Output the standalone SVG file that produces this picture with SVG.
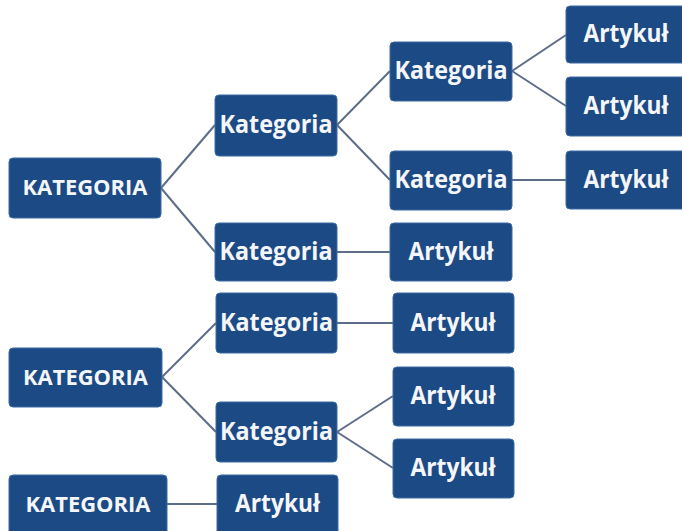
<svg xmlns="http://www.w3.org/2000/svg" width="682" height="531" viewBox="0 0 682 531">
<style>
.n rect{fill:#1c4a85;stroke:#3d6aa3;stroke-width:1;}
.n text{fill:#f4f6fa;font-family:"Open Sans","Liberation Sans",sans-serif;font-weight:bold;text-anchor:middle;}
.up{font-size:21px;}
.lo{font-size:25px;}
#connectors line{stroke:#5d6c88;stroke-width:2;}
</style>
<rect width="682" height="531" fill="#ffffff"/>
<g id="connectors">
<line x1="161" y1="188" x2="215" y2="125"/>
<line x1="161" y1="188" x2="215" y2="252"/>
<line x1="337" y1="125" x2="390" y2="71"/>
<line x1="337" y1="125" x2="390" y2="180"/>
<line x1="512" y1="71" x2="566" y2="35"/>
<line x1="512" y1="71" x2="566" y2="106"/>
<line x1="512" y1="180" x2="566" y2="180"/>
<line x1="337" y1="252" x2="390" y2="252"/>
<line x1="162" y1="377" x2="216" y2="323"/>
<line x1="162" y1="377" x2="216" y2="432"/>
<line x1="337" y1="323" x2="393" y2="323"/>
<line x1="337" y1="432" x2="393" y2="396"/>
<line x1="337" y1="432" x2="393" y2="468"/>
<line x1="167" y1="504" x2="217" y2="504"/>
</g>
<g id="K1" class="n"><rect x="9" y="158" width="152" height="60" rx="4"/><text class="up" x="85" y="195" textLength="125" lengthAdjust="spacingAndGlyphs">KATEGORIA</text></g>
<g id="K2" class="n"><rect x="9" y="348" width="153" height="59" rx="4"/><text class="up" x="85.5" y="385" textLength="125" lengthAdjust="spacingAndGlyphs">KATEGORIA</text></g>
<g id="K3" class="n"><rect x="9" y="475" width="158" height="62" rx="4"/><text class="up" x="88" y="512" textLength="125" lengthAdjust="spacingAndGlyphs">KATEGORIA</text></g>
<g id="ka" class="n"><rect x="215" y="95" width="122" height="61" rx="4"/><text class="lo" x="276" y="133" textLength="113" lengthAdjust="spacingAndGlyphs">Kategoria</text></g>
<g id="kb" class="n"><rect x="215" y="223" width="122" height="58" rx="4"/><text class="lo" x="276" y="260" textLength="113" lengthAdjust="spacingAndGlyphs">Kategoria</text></g>
<g id="kc" class="n"><rect x="216" y="293" width="121" height="60" rx="4"/><text class="lo" x="276.5" y="331" textLength="113" lengthAdjust="spacingAndGlyphs">Kategoria</text></g>
<g id="kd" class="n"><rect x="216" y="402" width="121" height="60" rx="4"/><text class="lo" x="276.5" y="440" textLength="113" lengthAdjust="spacingAndGlyphs">Kategoria</text></g>
<g id="ke" class="n"><rect x="390" y="42" width="122" height="59" rx="4"/><text class="lo" x="451" y="79" textLength="113" lengthAdjust="spacingAndGlyphs">Kategoria</text></g>
<g id="kf" class="n"><rect x="390" y="151" width="122" height="59" rx="4"/><text class="lo" x="451" y="188" textLength="113" lengthAdjust="spacingAndGlyphs">Kategoria</text></g>
<g id="a1" class="n"><rect x="566" y="6" width="121" height="57" rx="4"/><text class="lo" x="626" y="42" textLength="85" lengthAdjust="spacingAndGlyphs">Artykuł</text></g>
<g id="a2" class="n"><rect x="566" y="77" width="121" height="59" rx="4"/><text class="lo" x="626" y="114" textLength="85" lengthAdjust="spacingAndGlyphs">Artykuł</text></g>
<g id="a3" class="n"><rect x="566" y="151" width="121" height="58" rx="4"/><text class="lo" x="626" y="188" textLength="85" lengthAdjust="spacingAndGlyphs">Artykuł</text></g>
<g id="a4" class="n"><rect x="390" y="223" width="122" height="58" rx="4"/><text class="lo" x="451" y="260" textLength="85" lengthAdjust="spacingAndGlyphs">Artykuł</text></g>
<g id="a5" class="n"><rect x="393" y="293" width="121" height="60" rx="4"/><text class="lo" x="453" y="331" textLength="85" lengthAdjust="spacingAndGlyphs">Artykuł</text></g>
<g id="a6" class="n"><rect x="393" y="367" width="121" height="59" rx="4"/><text class="lo" x="453" y="404" textLength="85" lengthAdjust="spacingAndGlyphs">Artykuł</text></g>
<g id="a7" class="n"><rect x="393" y="439" width="121" height="59" rx="4"/><text class="lo" x="453" y="476" textLength="85" lengthAdjust="spacingAndGlyphs">Artykuł</text></g>
<g id="a8" class="n"><rect x="217" y="475" width="121" height="62" rx="4"/><text class="lo" x="277.5" y="512" textLength="85" lengthAdjust="spacingAndGlyphs">Artykuł</text></g>
</svg>
